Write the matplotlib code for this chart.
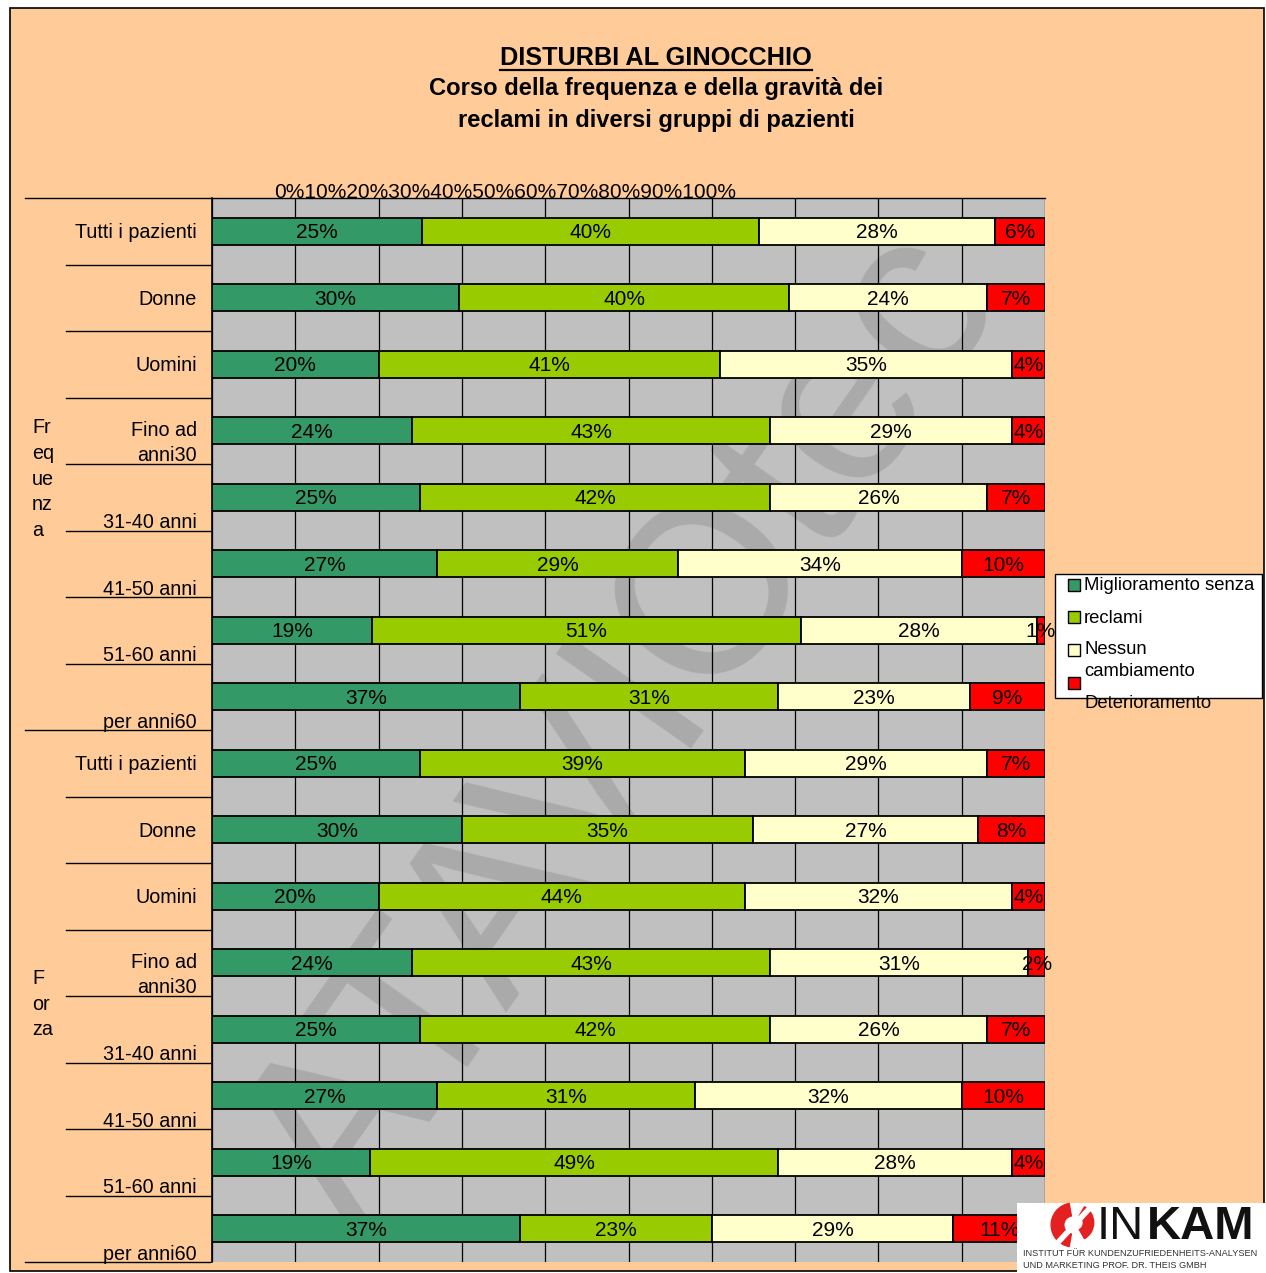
import matplotlib
matplotlib.use('Agg')
from matplotlib import pyplot as plt
from matplotlib.patches import Rectangle, Wedge
from matplotlib.transforms import blended_transform_factory
import numpy as np

plt.rcParams['font.family'] = ['Liberation Sans', 'DejaVu Sans']

W, H = 1266, 1273

# Categories (top to bottom) and the two groups
categories = ["Tutti i pazienti", "Donne", "Uomini", "Fino ad\nanni30",
              "31-40 anni", "41-50 anni", "51-60 anni", "per anni60"] * 2
groups = ["Fr\neq\nue\nnz\na", "F\nor\nza"]

# Series values (percent), one list per series
migl_senza = [25, 30, 20, 24, 25, 27, 19, 37, 25, 30, 20, 24, 25, 27, 19, 37]
migl = [40, 40, 41, 43, 42, 29, 51, 31, 39, 35, 44, 43, 42, 31, 49, 23]
nessun = [28, 24, 35, 29, 26, 34, 28, 23, 29, 27, 32, 31, 26, 32, 28, 29]
peggio = [6, 7, 4, 4, 7, 10, 1, 9, 7, 8, 4, 2, 7, 10, 4, 11]

series = [migl_senza, migl, nessun, peggio]
colors = ['#339966', '#99CC00', '#FFFFCC', '#FF0000']
ticks = list(range(0, 101, 10))

fig = plt.figure(figsize=(W / 100, H / 100), dpi=100, facecolor='white')

# peach background with border
fig.patches.append(Rectangle((10 / W, 1 - 1271 / H), 1254 / W, 1263 / H,
                             transform=fig.transFigure, facecolor='#FFCC99',
                             edgecolor='black', linewidth=1.2, zorder=-5))

ax = fig.add_axes([212 / W, 1 - 1262 / H, 833 / W, 1064 / H])
ax.set_facecolor('#C0C0C0')

# watermark behind the bars
ax.text(0.50, 0.50, "ATAVIOtec", transform=ax.transAxes, rotation=55,
        fontsize=172, color='#8a8a8a', alpha=0.4, ha='center', va='center',
        zorder=0.5, clip_on=True)

data = np.array(series, dtype=float)
totals = data.sum(axis=0)
norm = data / totals * 100
y = np.arange(len(categories))

left = np.zeros(len(categories))
for k in range(len(series)):
    ax.barh(y, norm[k], left=left, height=0.4, color=colors[k],
            edgecolor='black', linewidth=1.3, zorder=3)
    for i in range(len(categories)):
        ax.text(left[i] + norm[k][i] / 2, y[i] + 0.02, f"{series[k][i]}%",
                ha='center', va='center', fontsize=15, zorder=4)
    left += norm[k]

ax.set_xlim(0, 100)
ax.set_ylim(len(categories) - 0.5, -0.5)
for t in ticks:
    ax.axvline(t, color='black', linewidth=0.9, zorder=1)
ax.set_xticks([])
ax.set_yticks([])
for s in ['right', 'bottom']:
    ax.spines[s].set_visible(False)
ax.spines['left'].set_linewidth(1.2)
ax.spines['top'].set_linewidth(1.0)

# top tick labels as squeezed in the original
fig.text(505 / W, 1 - 192 / H, "".join(f"{t}%" for t in ticks),
         ha='center', va='center', fontsize=15)

# category labels and separator lines
tr = blended_transform_factory(fig.transFigure, ax.transData)
for i, lab in enumerate(categories):
    pos = i % 8
    if pos < 3:
        off = 0.02
    elif pos == 3:
        off = 0.19
    else:
        off = 0.38
    fig.text(197 / W, 0, lab, transform=tr, ha='right', va='center',
             fontsize=14.2, linespacing=1.4).set_y(i + off)

for b in np.arange(-0.5, len(categories), 1.0):
    x0 = 25 if (b + 0.5) % 8 == 0 else 66
    ax.plot([x0 / W, 210 / W], [b, b], transform=tr, color='black',
            linewidth=1.0, clip_on=False)

fig.text(32 / W, 1 - 479 / H, groups[0], ha='left', va='center',
         fontsize=14.2, linespacing=1.45)
fig.text(32 / W, 1 - 1004 / H, groups[1], ha='left', va='center',
         fontsize=14.2, linespacing=1.45)

# title
fig.text(656 / W, 1 - 58 / H, "DISTURBI AL GINOCCHIO", ha='center', va='center',
         fontsize=18.2, fontweight='bold')
fig.lines.append(plt.Line2D([500 / W, 812 / W], [1 - 70 / H, 1 - 70 / H],
                            transform=fig.transFigure, color='black', linewidth=1.6))
fig.text(656 / W, 1 - 89 / H, "Corso della frequenza e della gravità dei",
         ha='center', va='center', fontsize=17.1, fontweight='bold')
fig.text(656 / W, 1 - 120 / H, "reclami in diversi gruppi di pazienti",
         ha='center', va='center', fontsize=17.1, fontweight='bold')

# legend box
fig.patches.append(Rectangle((1055 / W, 1 - 698 / H), 207 / W, 124 / H,
                             transform=fig.transFigure, facecolor='white',
                             edgecolor='black', linewidth=1.0, zorder=1))
marker_y = [585, 617, 650, 683]
for c, my in zip(colors, marker_y):
    fig.patches.append(Rectangle((1068 / W, 1 - (my + 6) / H), 12 / W, 12 / H,
                                 transform=fig.transFigure, facecolor=c,
                                 edgecolor='black', linewidth=1.0, zorder=2))
text_y = [585, 618, 650, 671, 704]
text_s = ["Miglioramento senza", "reclami", "Nessun", "cambiamento", "Deterioramento"]
for ty, tx in zip(text_y, text_s):
    fig.text(1084 / W, 1 - ty / H, tx, ha='left', va='center', fontsize=13.3, zorder=3)

# logo
fig.patches.append(Rectangle((1017 / W, 0), 249 / W, 70 / H,
                             transform=fig.transFigure, facecolor='white',
                             edgecolor='none', zorder=5))
lax = fig.add_axes([1050 / W, 1 - 1248 / H, 46 / W, 46 / H], zorder=6)
lax.set_xlim(-1, 1)
lax.set_ylim(-1, 1)
lax.axis('off')
lax.add_patch(Wedge((0, 0), 0.95, 100, 260, width=0.55, color='#E52020'))
lax.add_patch(Wedge((0.1, 0.1), 0.8, -60, 60, width=0.45, color='#E52020'))
lax.plot([-0.6, 0.7], [-0.7, 0.7], color='white', linewidth=4)
fig.text(1097 / W, 1 - 1227 / H, "IN", ha='left', va='center', fontsize=34,
         color='#111111', zorder=6)
fig.text(1147 / W, 1 - 1227 / H, "KAM", ha='left', va='center', fontsize=34,
         fontweight='bold', color='#111111', zorder=6)
fig.text(1023 / W, 1 - 1254 / H, "INSTITUT FÜR KUNDENZUFRIEDENHEITS-ANALYSEN",
         ha='left', va='center', fontsize=6.6, color='#333333', zorder=6)
fig.text(1023 / W, 1 - 1266 / H, "UND MARKETING PROF. DR. THEIS GMBH",
         ha='left', va='center', fontsize=6.6, color='#333333', zorder=6)

fig.savefig('out.png', dpi=100, facecolor=fig.get_facecolor())
